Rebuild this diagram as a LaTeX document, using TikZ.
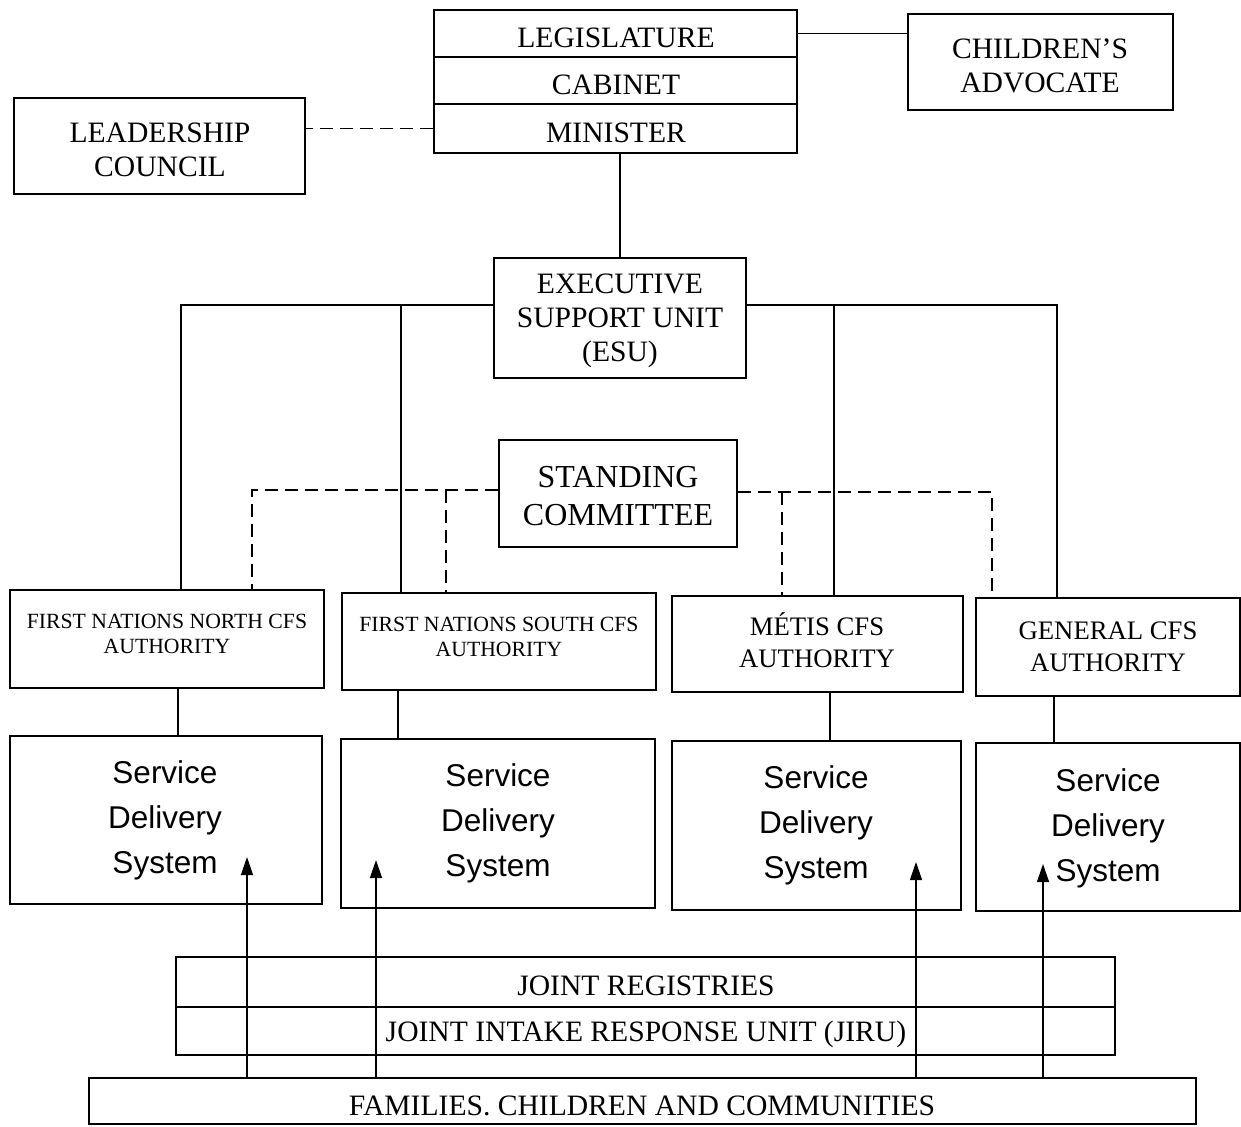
\documentclass[tikz,border=0pt]{standalone}
\usepackage{fontspec}
\setmainfont{Liberation Serif}
\newfontfamily\arialf{Liberation Sans}
\usetikzlibrary{arrows.meta}
\begin{document}
\begin{tikzpicture}[x=1pt,y=-1pt,
  bx/.style={draw, line width=1.5pt, inner sep=0pt},
  tx/.style={align=center, inner sep=0pt, font=\fontsize{29.6}{34}\selectfont},
  ln/.style={line width=1.3pt},
  dsh/.style={line width=1.3pt, dash pattern=on 13pt off 7pt},
  arr/.style={line width=1.3pt, -{Triangle[length=18pt,width=12pt]}},
  sdt/.style={tx, font=\arialf\fontsize{31.5}{45}\selectfont},
  small/.style={tx, font=\fontsize{21.7}{24.5}\selectfont},
  mid/.style={tx, font=\fontsize{26.7}{31.5}\selectfont}]
\fill[white] (0,0) rectangle (1241,1126);
\useasboundingbox (0,0) rectangle (1241,1126);

% top stack
\node[bx, minimum width=363, minimum height=47] (leg) at (615.5,33.5) {};
\node[tx] (legT) at (616,38) {LEGISLATURE};
\node[bx, minimum width=363, minimum height=47] (cab) at (615.5,80.5) {};
\node[tx] (cabT) at (616,85) {CABINET};
\node[bx, minimum width=363, minimum height=49] (min) at (615.5,128.5) {};
\node[tx] (minT) at (616,133) {MINISTER};
\node[bx, minimum width=265, minimum height=96] (ca) at (1040.5,62) {};
\node[tx] (caT) at (1040,66) {CHILDREN'S\\ADVOCATE};
\node[bx, minimum width=291, minimum height=96] (lc) at (159.5,146) {};
\node[tx] (lcT) at (160,150) {LEADERSHIP\\COUNCIL};
\node[bx, minimum width=252, minimum height=120] (esu) at (620,318) {};
\node[tx] (esuT) at (620,321) {EXECUTIVE\\SUPPORT UNIT\\(ESU)};
\node[bx, minimum width=238, minimum height=107] (sc) at (618,493.5) {};
\node[tx, font=\fontsize{32}{38}\selectfont] (scT) at (618,496) {STANDING\\COMMITTEE};

% authorities
\node[bx, minimum width=314, minimum height=98] (fnn) at (167,639) {};
\node[small] (fnnT) at (167,634) {FIRST NATIONS NORTH CFS\\AUTHORITY};
\node[bx, minimum width=314, minimum height=97] (fns) at (499,641.5) {};
\node[small] (fnsT) at (499,637) {FIRST NATIONS SOUTH CFS\\AUTHORITY};
\node[bx, minimum width=291, minimum height=96] (met) at (817.5,644) {};
\node[mid] (metT) at (817,640) {MÉTIS CFS\\AUTHORITY};
\node[bx, minimum width=264, minimum height=98] (gen) at (1108,647) {};
\node[mid] (genT) at (1108,647) {GENERAL CFS\\AUTHORITY};

% service delivery systems
\node[bx, minimum width=312, minimum height=168] (sd1) at (166,820) {};
\node[sdt] (sd1T) at (165,820) {Service\\Delivery\\System};
\node[bx, minimum width=314, minimum height=169] (sd2) at (498,823.5) {};
\node[sdt] (sd2T) at (498,823) {Service\\Delivery\\System};
\node[bx, minimum width=289, minimum height=169] (sd3) at (816.5,825.5) {};
\node[sdt] (sd3T) at (816,825) {Service\\Delivery\\System};
\node[bx, minimum width=264, minimum height=168] (sd4) at (1108,827) {};
\node[sdt] (sd4T) at (1108,828) {Service\\Delivery\\System};

% bottom
\node[bx, minimum width=939, minimum height=50] (jr) at (645.5,982) {};
\node[tx] (jrT) at (646,986) {JOINT REGISTRIES};
\node[bx, minimum width=939, minimum height=48] (jiru) at (645.5,1031) {};
\node[tx] (jiruT) at (646,1034) {JOINT INTAKE RESPONSE UNIT (JIRU)};
\node[bx, minimum width=1107, minimum height=46] (fam) at (642.5,1101) {};
\node[tx] (famT) at (642,1106) {FAMILIES. CHILDREN AND COMMUNITIES};

% coordinates
\coordinate (bl) at (181,305);
\coordinate (bl2) at (401,305);
\coordinate (br2) at (834,305);
\coordinate (br) at (1057,305);
\coordinate (dl) at (252,490);
\coordinate (dl2) at (446,490);
\coordinate (dr2) at (782,492);
\coordinate (dr) at (992,492);
\coordinate (k1) at (178,0);
\coordinate (k2) at (398,0);
\coordinate (k3) at (830,0);
\coordinate (k4) at (1054,0);
\coordinate (a1) at (247,857);
\coordinate (a2) at (376,860);
\coordinate (a3) at (916,862);
\coordinate (a4) at (1043,864);

% connectors
\draw[ln] (leg.east) -- (leg.east -| ca.west);
\draw[dsh] (min.west) -- (min.west -| lc.east);
\draw[ln] (esu.north |- min.south) -- (esu.north);
\draw[ln] (esu.west |- bl) -- (bl) -- (bl |- fnn.north);
\draw[ln] (bl2) -- (bl2 |- fns.north);
\draw[ln] (esu.east |- br) -- (br) -- (br |- gen.north);
\draw[ln] (br2) -- (br2 |- met.north);
\draw[dsh] (sc.west |- dl) -- (dl) -- (dl |- fnn.north);
\draw[dsh] (dl2) -- (dl2 |- fns.north);
\draw[dsh] (sc.east |- dr) -- (dr) -- (dr |- gen.north);
\draw[dsh] (dr2) -- (dr2 |- met.north);
\draw[ln] (fnn.south -| k1) -- (sd1.north -| k1);
\draw[ln] (fns.south -| k2) -- (sd2.north -| k2);
\draw[ln] (met.south -| k3) -- (sd3.north -| k3);
\draw[ln] (gen.south -| k4) -- (sd4.north -| k4);
\draw[arr] (fam.north -| a1) -- (a1);
\draw[arr] (fam.north -| a2) -- (a2);
\draw[arr] (fam.north -| a3) -- (a3);
\draw[arr] (fam.north -| a4) -- (a4);
\end{tikzpicture}
\end{document}
